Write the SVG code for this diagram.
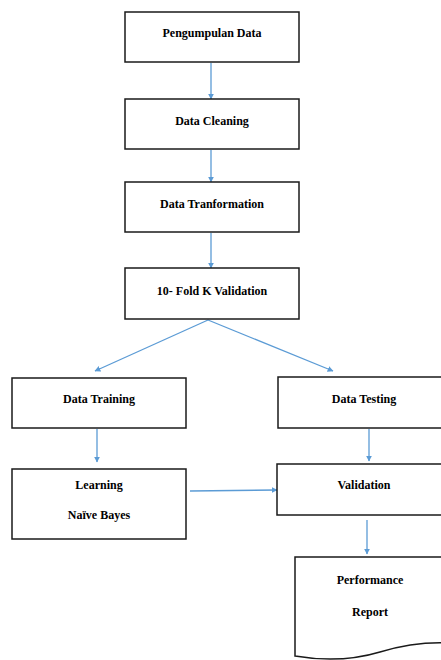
<svg xmlns="http://www.w3.org/2000/svg" width="441" height="660" viewBox="0 0 441 660">
<defs>
<style>
.box{fill:#fff;stroke:#1a1a1a;stroke-width:1.5}
.t{font-family:'Liberation Serif','DejaVu Serif',serif;font-weight:bold;font-size:12px;fill:#000;text-anchor:middle}
.c{fill:none;stroke:#5B9BD5;stroke-width:1.3;marker-end:url(#ah)}
</style>
<marker id="ah" viewBox="0 0 10 10" refX="9" refY="5" markerWidth="6" markerHeight="6" orient="auto" markerUnits="userSpaceOnUse">
<path d="M0,0 L10,5 L0,10 z" fill="#5B9BD5"/>
</marker>
</defs>
<rect width="441" height="660" fill="#fff"/>
<g id="connectors">
<line class="c" x1="211" y1="63" x2="211" y2="99"/>
<line class="c" x1="211" y1="150" x2="211" y2="182"/>
<line class="c" x1="211" y1="233" x2="211" y2="268"/>
<line class="c" x1="208" y1="320" x2="95" y2="371"/>
<line class="c" x1="208" y1="320" x2="333" y2="371"/>
<line class="c" x1="97" y1="429" x2="97" y2="462"/>
<line class="c" x1="369" y1="429" x2="369" y2="461"/>
<line class="c" x1="190" y1="491" x2="277" y2="490"/>
<line class="c" x1="367" y1="520" x2="367" y2="554"/>
</g>
<g id="n1"><rect class="box" x="125" y="12" width="174" height="50"/><text class="t" x="212" y="37">Pengumpulan Data</text></g>
<g id="n2"><rect class="box" x="125" y="99" width="174" height="50"/><text class="t" x="212" y="125">Data Cleaning</text></g>
<g id="n3"><rect class="box" x="125" y="182" width="174" height="50"/><text class="t" x="212" y="208">Data Tranformation</text></g>
<g id="n4"><rect class="box" x="125" y="268" width="174" height="51"/><text class="t" x="212" y="295">10- Fold K Validation</text></g>
<g id="n5"><rect class="box" x="12" y="378" width="174" height="50"/><text class="t" x="99" y="403">Data Training</text></g>
<g id="n6"><rect class="box" x="278" y="377" width="170" height="51"/><text class="t" x="364" y="403">Data Testing</text></g>
<g id="n7"><rect class="box" x="12" y="469" width="174" height="70"/><text class="t" x="99" y="489">Learning</text><text class="t" x="99" y="519">Naïve Bayes</text></g>
<g id="n8"><rect class="box" x="277" y="464" width="170" height="51"/><text class="t" x="364" y="489">Validation</text></g>
<g id="n9"><path class="box" d="M295,557 H448 V643 C425,642 400,646 380,652 C360,658 330,662 295,656 Z"/><text class="t" x="370" y="584">Performance</text><text class="t" x="370" y="616">Report</text></g>
</svg>
